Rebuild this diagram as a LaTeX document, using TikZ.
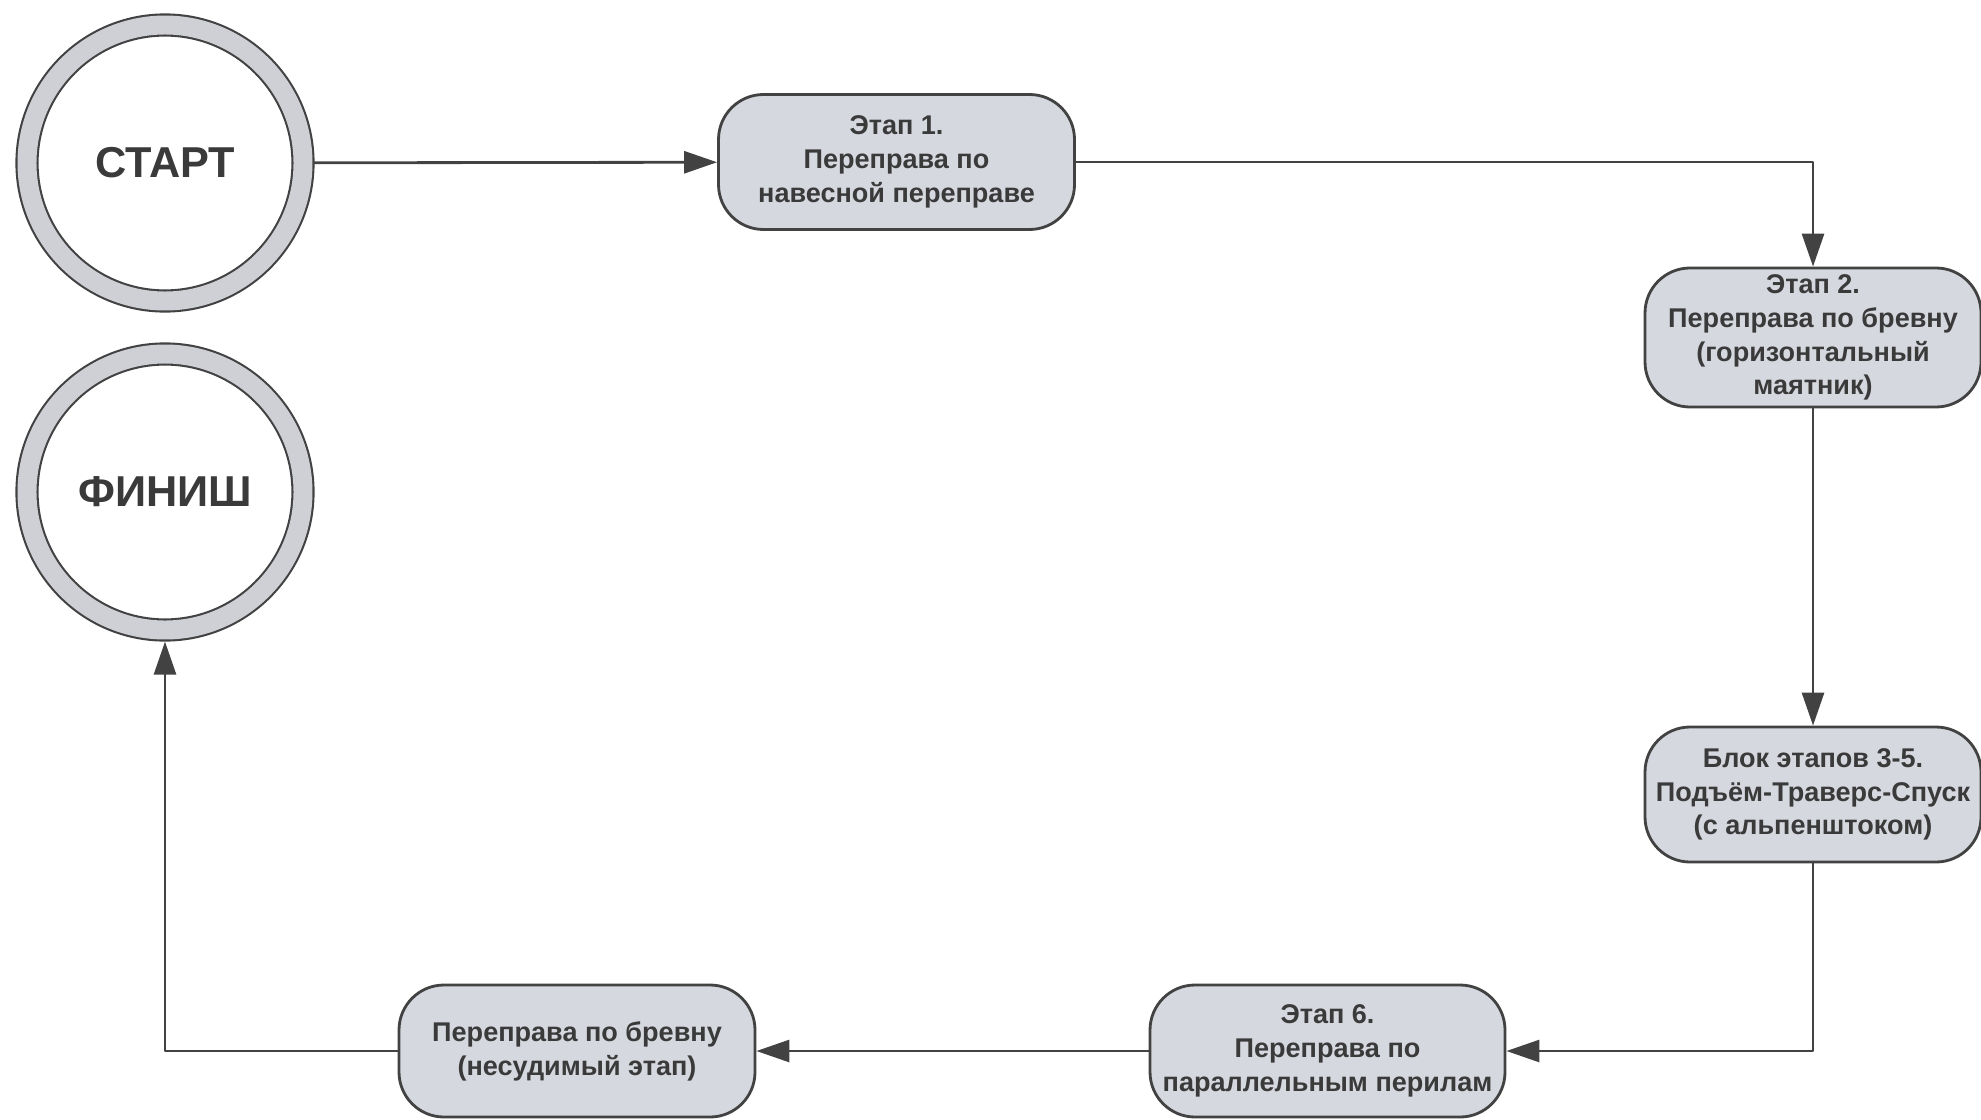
\documentclass[tikz,border=0pt]{standalone}
\usepackage{fontspec}
\setmainfont{Liberation Sans}
\usetikzlibrary{arrows.meta}
\definecolor{boxgray}{RGB}{214,216,223}
\definecolor{ringgray}{RGB}{206,208,214}
\definecolor{linegray}{RGB}{66,66,66}
\definecolor{textgray}{RGB}{58,58,58}
\begin{document}
\begin{tikzpicture}[line cap=round,line join=round,
  endpoint/.style={circle,draw=linegray,line width=0.6pt,double=ringgray,double distance=5.4pt,
    fill=white,minimum size=2.76cm,outer sep=3.3pt,text=textgray,font=\fontsize{12.3}{14}\selectfont\bfseries},
  stage/.style={draw=linegray,line width=0.8pt,fill=boxgray,rounded corners=0.45cm,
    minimum width=3.56cm,minimum height=1.35cm,align=center,inner sep=1pt,
    text=textgray,font=\fontsize{7.7}{9.6}\selectfont\bfseries},
  flow/.style={draw=linegray,line width=0.8pt,-{Triangle[length=3.3mm,width=2.2mm]}}]
\useasboundingbox (0,0) rectangle (19.81,11.19);

% start and finish
\node[endpoint] (start) at (1.65,9.56) {СТАРТ};
\node[endpoint] (finish) at (1.65,6.27) {ФИНИШ};

% stages
\node[stage] (s1) at (8.965,9.57) {Этап 1.\\Переправа по\\навесной переправе};
\node[stage,minimum width=3.36cm,minimum height=1.39cm] (s2) at (18.13,7.815) {Этап 2.\\Переправа по бревну\\(горизонтальный\\маятник)};
\node[stage,minimum width=3.36cm] (s35) at (18.13,3.245) {Блок этапов 3-5.\\Подъём-Траверс-Спуск\\(с альпенштоком)};
\node[stage,minimum width=3.55cm,minimum height=1.32cm] (s6) at (13.275,0.68) {Этап 6.\\Переправа по\\параллельным перилам};
\node[stage,minimum height=1.32cm] (s7) at (5.77,0.68) {Переправа по бревну\\(несудимый этап)};

% connectors
\draw[flow] (start) -- (s1);
\draw[flow] (s1.east) -| (s2.north);
\draw[flow] (s2) -- (s35);
\draw[flow] (s35.south) |- (s6.east);
\draw[flow] (s6) -- (s7);
\draw[flow] (s7.west) -| (finish.south);
\end{tikzpicture}
\end{document}
